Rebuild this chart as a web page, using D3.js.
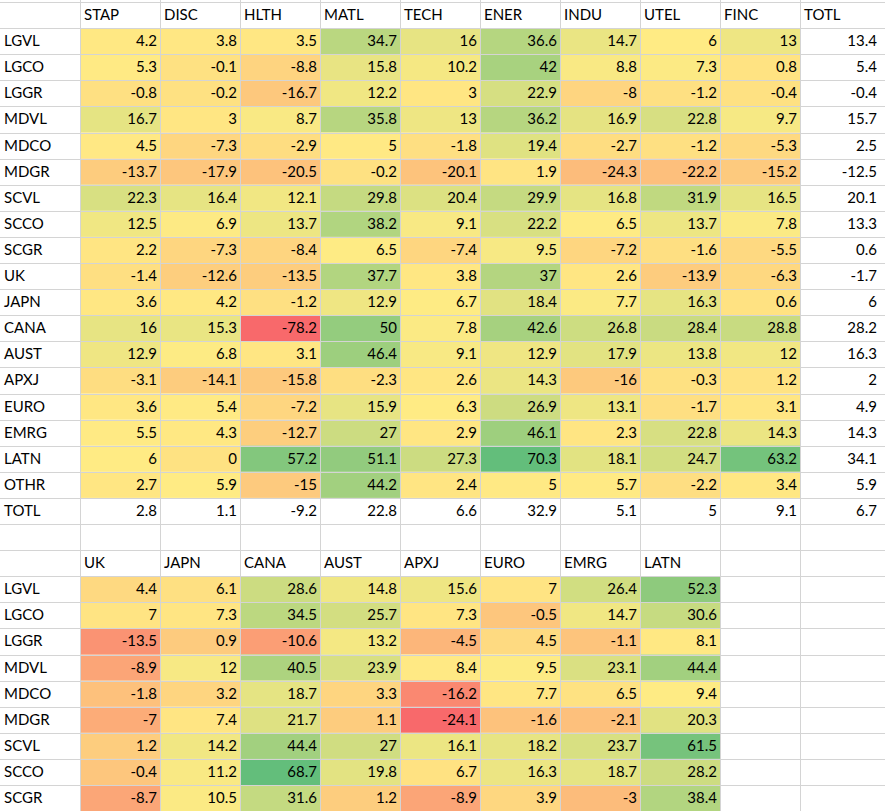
<!DOCTYPE html>
<html><head><meta charset="utf-8">
<script src="https://cdn.jsdelivr.net/npm/d3@7"></script>
<style>body{margin:0;background:#fff}</style>
</head><body>
<script>
// top table
const sectors = ['STAP','DISC','HLTH','MATL','TECH','ENER','INDU','UTEL','FINC']
const styles = ['LGVL','LGCO','LGGR','MDVL','MDCO','MDGR','SCVL','SCCO','SCGR']
const regions = ['UK','JAPN','CANA','AUST','APXJ','EURO','EMRG','LATN']
const topRows = styles.concat(regions, ['OTHR'])
const topValues = [
  [4.2,3.8,3.5,34.7,16,36.6,14.7,6,13],
  [5.3,-0.1,-8.8,15.8,10.2,42,8.8,7.3,0.8],
  [-0.8,-0.2,-16.7,12.2,3,22.9,-8,-1.2,-0.4],
  [16.7,3,8.7,35.8,13,36.2,16.9,22.8,9.7],
  [4.5,-7.3,-2.9,5,-1.8,19.4,-2.7,-1.2,-5.3],
  [-13.7,-17.9,-20.5,-0.2,-20.1,1.9,-24.3,-22.2,-15.2],
  [22.3,16.4,12.1,29.8,20.4,29.9,16.8,31.9,16.5],
  [12.5,6.9,13.7,38.2,9.1,22.2,6.5,13.7,7.8],
  [2.2,-7.3,-8.4,6.5,-7.4,9.5,-7.2,-1.6,-5.5],
  [-1.4,-12.6,-13.5,37.7,3.8,37,2.6,-13.9,-6.3],
  [3.6,4.2,-1.2,12.9,6.7,18.4,7.7,16.3,0.6],
  [16,15.3,-78.2,50,7.8,42.6,26.8,28.4,28.8],
  [12.9,6.8,3.1,46.4,9.1,12.9,17.9,13.8,12],
  [-3.1,-14.1,-15.8,-2.3,2.6,14.3,-16,-0.3,1.2],
  [3.6,5.4,-7.2,15.9,6.3,26.9,13.1,-1.7,3.1],
  [5.5,4.3,-12.7,27,2.9,46.1,2.3,22.8,14.3],
  [6,0,57.2,51.1,27.3,70.3,18.1,24.7,63.2],
  [2.7,5.9,-15,44.2,2.4,5,5.7,-2.2,3.4]
]
const rowTotals = [13.4,5.4,-0.4,15.7,2.5,-12.5,20.1,13.3,0.6,-1.7,6,28.2,16.3,2,4.9,14.3,34.1,5.9]
const colTotals = [2.8,1.1,-9.2,22.8,6.6,32.9,5.1,5,9.1,6.7]
// bottom table
const bottomValues = [
  [4.4,6.1,28.6,14.8,15.6,7,26.4,52.3],
  [7,7.3,34.5,25.7,7.3,-0.5,14.7,30.6],
  [-13.5,0.9,-10.6,13.2,-4.5,4.5,-1.1,8.1],
  [-8.9,12,40.5,23.9,8.4,9.5,23.1,44.4],
  [-1.8,3.2,18.7,3.3,-16.2,7.7,6.5,9.4],
  [-7,7.4,21.7,1.1,-24.1,-1.6,-2.1,20.3],
  [1.2,14.2,44.4,27,16.1,18.2,23.7,61.5],
  [-0.4,11.2,68.7,19.8,6.7,16.3,18.7,28.2],
  [-8.7,10.5,31.6,1.2,-8.9,3.9,-3,38.4]
]

const W = 885, H = 811
const svg = d3.select('body').append('svg').attr('width', W).attr('height', H)
  .style('font-family', 'Lato, "Liberation Sans", sans-serif').style('font-size', '15px')

const x = d3.scaleBand().domain(d3.range(11)).range([0, 880])
const y = d3.scaleBand().domain(d3.range(31)).range([2, 2 + 31 * 26.1])

function colorScale(vals) {
  const flat = vals.flat().sort(d3.ascending)
  return d3.scaleLinear()
    .domain([flat[0], d3.quantile(flat, 0.5), flat[flat.length - 1]])
    .range(['#F8696B', '#FFEB84', '#63BE7B'])
}
const cTop = colorScale(topValues)
const cBot = colorScale(bottomValues)

const cells = []
const txt = (r, c, t, anchor) => cells.push({ r, c, t, anchor })
// top header
sectors.concat(['TOTL']).forEach((s, i) => txt(0, i + 1, s, 'start'))
topRows.forEach((r, i) => {
  txt(i + 1, 0, r, 'start')
  topValues[i].forEach((v, j) => cells.push({ r: i + 1, c: j + 1, t: v, anchor: 'end', fill: cTop(v) }))
  txt(i + 1, 10, rowTotals[i], 'end')
})
txt(19, 0, 'TOTL', 'start')
colTotals.forEach((v, j) => txt(19, j + 1, v, 'end'))
regions.forEach((s, i) => txt(21, i + 1, s, 'start'))
styles.forEach((r, i) => {
  txt(22 + i, 0, r, 'start')
  bottomValues[i].forEach((v, j) => cells.push({ r: 22 + i, c: j + 1, t: v, anchor: 'end', fill: cBot(v) }))
})

// fills
svg.selectAll('rect.cell').data(cells.filter(d => d.fill)).join('rect')
  .attr('x', d => x(d.c)).attr('y', d => y(d.r))
  .attr('width', x.bandwidth()).attr('height', y.bandwidth())
  .attr('fill', d => d.fill)

// gridlines
const grid = svg.append('g').attr('stroke', '#D4D4D4').attr('stroke-width', 1)
d3.range(32).forEach(i => {
  const yy = Math.round(2 + i * 26.1) + 0.5
  grid.append('line').attr('x1', 0).attr('x2', W).attr('y1', yy).attr('y2', yy)
})
d3.range(1, 11).forEach(i => {
  const xx = x(i) + 0.5
  grid.append('line').attr('x1', xx).attr('x2', xx).attr('y1', 0).attr('y2', H)
})

svg.selectAll('text.cell').data(cells).join('text')
  .attr('x', d => d.anchor === 'end' ? x(d.c) + x.bandwidth() - 3 : x(d.c) + 4)
  .attr('y', d => y(d.r) + y.bandwidth() / 2 + 5)
  .attr('text-anchor', d => d.anchor)
  .attr('fill', '#000')
  .text(d => d.t)
</script>
</body></html>
